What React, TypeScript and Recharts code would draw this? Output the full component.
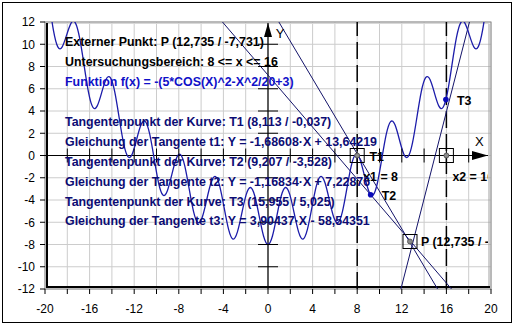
import React from "react";
import {
  LineChart,
  Line,
  XAxis,
  YAxis,
  CartesianGrid,
  ReferenceLine,
  ReferenceDot,
  ReferenceArea,
} from "recharts";

const FONT = '"Liberation Sans", Arial, Helvetica, sans-serif';
const CLIP_ID = "plot-inner-clip";

// f(x) (extrema and half-way points)
const curveX = [
  -20, -19.635, -19.242, -18.85, -18.457, -18.064, -17.671, -17.279, -16.886, -16.493,
  -16.101, -15.708, -15.315, -14.923, -14.53, -14.137, -13.744, -13.352, -12.959, -12.566,
  -12.174, -11.781, -11.388, -10.996, -10.603, -10.21, -9.817, -9.425, -9.032, -8.639,
  -8.247, -7.854, -7.461, -7.069, -6.676, -6.283, -5.89, -5.498, -5.105, -4.712,
  -4.32, -3.927, -3.534, -3.142, -2.749, -2.356, -1.963, -1.571, -1.178, -0.785,
  -0.393, 0, 0.393, 0.785, 1.178, 1.571, 1.963, 2.356, 2.749, 3.142,
  3.534, 3.927, 4.32, 4.712, 5.105, 5.498, 5.89, 6.283, 6.676, 7.069,
  7.461, 7.854, 8.247, 8.639, 9.032, 9.425, 9.817, 10.21, 10.603, 10.996,
  11.388, 11.781, 12.174, 12.566, 12.959, 13.352, 13.744, 14.137, 14.53, 14.923,
  15.315, 15.708, 16.101, 16.493, 16.886, 17.279, 17.671, 18.064, 18.457, 18.85,
  19.242, 19.635, 20,
];
const curveY = [
  16.17, 13.777, 11.245, 9.765, 9.765, 10.816, 11.882, 11.928, 10.525, 8.102,
  5.694, 4.337, 4.46, 5.634, 6.824, 6.993, 5.714, 3.414, 1.129, -0.104,
  0.142, 1.44, 2.753, 3.045, 1.889, -0.288, -2.449, -3.559, -3.189, -1.768,
  -0.332, 0.084, -0.949, -3.002, -5.04, -6.026, -5.533, -3.989, -2.429, -1.89,
  -2.799, -4.729, -6.643, -7.507, -6.89, -5.222, -3.539, -2.877, -3.663, -5.469,
  -7.26, -8, -7.26, -5.469, -3.663, -2.877, -3.539, -5.222, -6.89, -7.507,
  -6.643, -4.729, -2.799, -1.89, -2.429, -3.989, -5.533, -6.026, -5.04, -3.002,
  -0.949, 0.084, -0.332, -1.768, -3.189, -3.559, -2.449, -0.288, 1.889, 3.045,
  2.753, 1.44, 0.142, -0.104, 1.129, 3.414, 5.714, 6.993, 6.824, 5.634,
  4.46, 4.337, 5.694, 8.102, 10.525, 11.928, 11.882, 10.816, 9.765, 9.765,
  11.245, 13.777, 16.17,
];

const xTicks = [-20, -18, -16, -14, -12, -10, -8, -6, -4, -2, 0, 2, 4, 6, 8, 10, 12, 14, 16, 18, 20];
const yTicks = [-12, -10, -8, -6, -4, -2, 0, 2, 4, 6, 8, 10, 12];
const axisMarksX = [-18, -16, -14, -12, -10, -8, -6, -4, -2, 2, 4, 6, 8, 10, 12, 14, 16, 18];
const axisMarksY = [-10, -8, -6, -4, -2, 2, 4, 6, 8, 10];

const bereich = [8, 16];
const pointP = { x: 12.735, y: -7.731, label: "P (12,735 / -7,731)" };
const tangentPoints = [
  { name: "T1", x: 8.113, y: -0.037 },
  { name: "T2", x: 9.207, y: -3.528 },
  { name: "T3", x: 15.955, y: 5.025 },
];
// where each tangent leaves the plot (top / bottom)
const tangentEnds = [
  [0.974, 12, 15.208, -12],
  [-4.084, 12, 16.458, -12],
  [18.068, 12, 11.921, -12],
];

const infoLines = [
  { text: "Externer Punkt: P (12,735 / -7,731)", color: "#000000" },
  { text: "Untersuchungsbereich: 8 <= x <= 16", color: "#000000" },
  { text: "Funktion f(x) = -(5*COS(X)^2-X^2/20+3)", color: "#1010c8" },
  { text: "", color: "#000000" },
  { text: "Tangentenpunkt der Kurve: T1 (8,113 / -0,037)", color: "#0c0c74" },
  { text: "Gleichung der Tangente t1: Y = -1,68608·X + 13,64219", color: "#0c0c74" },
  { text: "Tangentenpunkt der Kurve: T2 (9,207 / -3,528)", color: "#0c0c74" },
  { text: "Gleichung der Tangente t2: Y = -1,16834·X + 7,22876", color: "#0c0c74" },
  { text: "Tangentenpunkt der Kurve: T3 (15,955 / 5,025)", color: "#0c0c74" },
  { text: "Gleichung der Tangente t3: Y = 3,90437·X - 58,54351", color: "#0c0c74" },
];

const curveData = curveX.map((x, i) => ({ x, y: curveY[i] }));

const frameShape = (p: any) => {
  const { x, y, width: w, height: h } = p;
  return (
    <g fill="none">
      <defs>
        <clipPath id={CLIP_ID}>
          <rect x={x + 3} y={y + 3} width={w - 6} height={h - 6} />
        </clipPath>
      </defs>
      <rect x={x} y={y} width={w} height={h} stroke="#8c8c8c" />
      <path d={`M${x + 2},${y + h - 1} V${y + 1.5} H${x + w - 1.5}`} stroke="#d8d8d8" />
      <path d={`M${x + w - 2},${y + 2} V${y + h - 1.5}`} stroke="#a0a0a0" />
      <path d={`M${x + 2},${y + 1} V${y + h - 2} H${x + w - 1}`} stroke="#000" strokeWidth={2} />
    </g>
  );
};

const boxShape = (label: string, dx: number, dy: number) => (p: any) => (
  <g clipPath={`url(#${CLIP_ID})`}>
    <rect x={p.cx - 7} y={p.cy - 7} width={14} height={14} fill="none" stroke="#000" />
    <circle cx={p.cx} cy={p.cy} r={2.5} fill="#8a8a8a" stroke="#4a4a4a" strokeWidth={0.8} />
    <text
      x={p.cx + dx}
      y={p.cy + dy}
      dominantBaseline="central"
      fontFamily={FONT}
      fontWeight="bold"
      fontSize={12.4}
      fill="#000"
    >
      {label}
    </text>
  </g>
);

const tPointShape = (label: string, showDot: boolean) => (p: any) => (
  <g clipPath={`url(#${CLIP_ID})`}>
    {showDot && <circle cx={p.cx} cy={p.cy} r={2.8} fill="#0a0ab8" />}
    <text
      x={p.cx + 11}
      y={p.cy + 1}
      dominantBaseline="central"
      fontFamily={FONT}
      fontWeight="bold"
      fontSize={12.4}
      fill="#000"
    >
      {label}
    </text>
  </g>
);

const letterShape = (label: string) => (p: any) => (
  <text x={p.cx} y={p.cy} textAnchor="middle" dominantBaseline="central" fontFamily={FONT} fontSize={13} fill="#000">
    {label}
  </text>
);

const arrowRight = (p: any) => (
  <polygon points={`${p.cx},${p.cy} ${p.cx - 16},${p.cy - 4.5} ${p.cx - 16},${p.cy + 4.5}`} fill="#000" />
);
const arrowUp = (p: any) => (
  <polygon points={`${p.cx},${p.cy} ${p.cx - 4},${p.cy + 14} ${p.cx + 4},${p.cy + 14}`} fill="#000" />
);
const vMark = (p: any) => <line x1={p.cx} x2={p.cx} y1={p.cy - 7} y2={p.cy + 7} stroke="#000" />;
const hMark = (p: any) => <line x1={p.cx - 10} x2={p.cx + 10} y1={p.cy} y2={p.cy} stroke="#000" />;

export default function App() {
  return (
    <div style={{ position: "absolute", left: 0, top: 0, width: 515, height: 324, background: "#fff" }}>
      <LineChart width={515} height={324} data={curveData} margin={{ top: 22, right: 24, bottom: 0, left: 0 }}>
        <CartesianGrid stroke="#cccccc" />
        <XAxis
          type="number"
          dataKey="x"
          domain={[-20, 20]}
          ticks={xTicks}
          interval={0}
          allowDataOverflow
          tickFormatter={(v: number) => (v % 4 === 0 ? String(v) : "")}
          axisLine={false}
          tickLine={{ stroke: "#000" }}
          tickSize={5}
          tickMargin={10}
          height={35}
          tick={{ fill: "#000", fontSize: 12, fontFamily: FONT }}
        />
        <YAxis
          type="number"
          domain={[-12, 12]}
          ticks={yTicks}
          interval={0}
          allowDataOverflow
          axisLine={false}
          tickLine={{ stroke: "#000" }}
          tickSize={5}
          tickMargin={5}
          width={45}
          tick={{ fill: "#000", fontSize: 12, fontFamily: FONT }}
        />

        {bereich.map((b) => (
          <ReferenceLine key={`b${b}`} x={b} stroke="#000" strokeWidth={1.5} strokeDasharray="17 6" />
        ))}

        <ReferenceLine segment={[{ x: -20, y: 0 }, { x: 19.73, y: 0 }]} stroke="#000" strokeWidth={1.2} />
        <ReferenceLine segment={[{ x: 0, y: -12 }, { x: 0, y: 11.9 }]} stroke="#000" strokeWidth={1.2} />
        {axisMarksX.map((v) => (
          <ReferenceDot key={`mx${v}`} x={v} y={0} shape={vMark} />
        ))}
        {axisMarksY.map((v) => (
          <ReferenceDot key={`my${v}`} x={0} y={v} shape={hMark} />
        ))}
        <ReferenceDot x={19.73} y={0} shape={arrowRight} />
        <ReferenceDot x={0} y={11.9} shape={arrowUp} />
        <ReferenceDot x={18.96} y={1.26} shape={letterShape("X")} />
        <ReferenceDot x={1.08} y={10.98} shape={letterShape("Y")} />

        {tangentEnds.map((t, i) => (
          <ReferenceLine
            key={`t${i}`}
            segment={[{ x: t[0], y: t[1] }, { x: t[2], y: t[3] }]}
            stroke="#14146a"
            strokeWidth={1}
          />
        ))}

        <Line
          dataKey="y"
          type="natural"
          stroke="#1c1caa"
          strokeWidth={1.3}
          dot={false}
          activeDot={false}
          isAnimationActive={false}
        />

        {tangentPoints.map((t, i) => (
          <ReferenceDot key={t.name} x={t.x} y={t.y} shape={tPointShape(t.name, i > 0)} />
        ))}
        {bereich.map((b, i) => (
          <ReferenceDot key={`q${b}`} x={b} y={0} shape={boxShape(`x${i + 1} = ${b}`, 6, 21)} />
        ))}
        <ReferenceDot x={pointP.x} y={pointP.y} shape={boxShape(pointP.label, 11, 0)} />

        <ReferenceArea x1={-20} x2={20} y1={-12} y2={12} shape={frameShape} />
      </LineChart>

      <div
        style={{
          position: "absolute",
          left: 65,
          top: 33,
          fontFamily: FONT,
          fontWeight: "bold",
          fontSize: 12.4,
          lineHeight: "19.95px",
          whiteSpace: "pre",
          pointerEvents: "none",
        }}
      >
        {infoLines.map((l, i) => (
          <div key={i} style={{ color: l.color, height: 19.95 }}>
            {l.text}
          </div>
        ))}
      </div>

      <div
        style={{
          position: "absolute",
          left: 2,
          top: 2,
          width: 508,
          height: 319,
          border: "1px solid #000",
          pointerEvents: "none",
        }}
      />
    </div>
  );
}
